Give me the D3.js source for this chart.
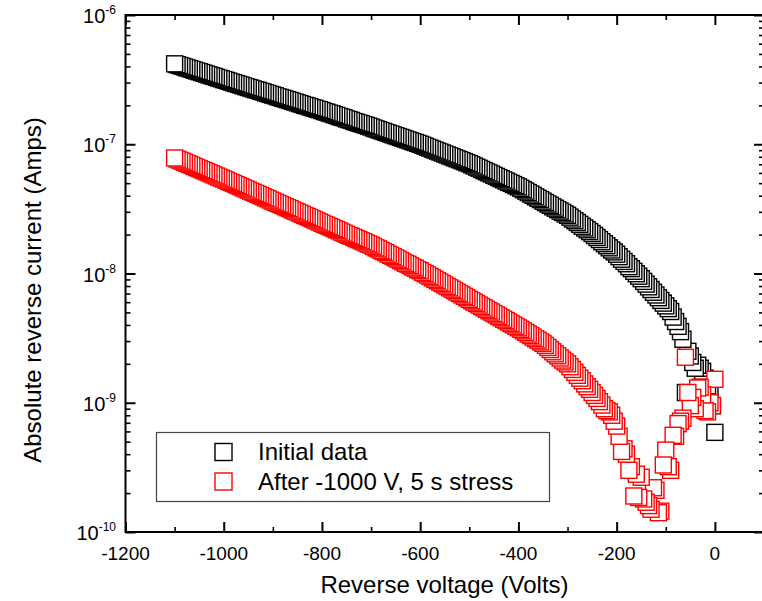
<!DOCTYPE html>
<html>
<head>
<meta charset="utf-8">
<script src="https://cdn.jsdelivr.net/npm/d3@7.9.0/dist/d3.min.js"></script>
<style>
  body { margin: 0; background: #fff; }
  svg { display: block; font-family: "Liberation Sans", Arial, sans-serif; }
</style>
</head>
<body>
<svg id="chart" width="762" height="601"></svg>
<script>
// reverse bias sweep, 5 V steps (Volts)
const voltage = [
  -1100, -1095, -1090, -1085, -1080, -1075, -1070, -1065, -1060, -1055, -1050, -1045, -1040, -1035, -1030, -1025, -1020, -1015, -1010, -1005,
  -1000, -995, -990, -985, -980, -975, -970, -965, -960, -955, -950, -945, -940, -935, -930, -925, -920, -915, -910, -905,
  -900, -895, -890, -885, -880, -875, -870, -865, -860, -855, -850, -845, -840, -835, -830, -825, -820, -815, -810, -805,
  -800, -795, -790, -785, -780, -775, -770, -765, -760, -755, -750, -745, -740, -735, -730, -725, -720, -715, -710, -705,
  -700, -695, -690, -685, -680, -675, -670, -665, -660, -655, -650, -645, -640, -635, -630, -625, -620, -615, -610, -605,
  -600, -595, -590, -585, -580, -575, -570, -565, -560, -555, -550, -545, -540, -535, -530, -525, -520, -515, -510, -505,
  -500, -495, -490, -485, -480, -475, -470, -465, -460, -455, -450, -445, -440, -435, -430, -425, -420, -415, -410, -405,
  -400, -395, -390, -385, -380, -375, -370, -365, -360, -355, -350, -345, -340, -335, -330, -325, -320, -315, -310, -305,
  -300, -295, -290, -285, -280, -275, -270, -265, -260, -255, -250, -245, -240, -235, -230, -225, -220, -215, -210, -205,
  -200, -195, -190, -185, -180, -175, -170, -165, -160, -155, -150, -145, -140, -135, -130, -125, -120, -115, -110, -105,
  -100, -95, -90, -85, -80, -75, -70, -65, -60, -55, -50, -45, -40, -35, -30, -25, -20, -15, -10, -5,
  0,
];

// absolute reverse current, nA (same order as voltage)
const initialCurrent = [
  419, 413, 407, 402, 396, 390, 385, 380, 374, 369, 364, 359, 354, 349, 344, 339, 335, 330, 325, 321,
  316, 312, 308, 303, 299, 295, 291, 287, 283, 279, 275, 272, 268, 264, 261, 257, 254, 250, 247, 243,
  240, 237, 233, 230, 227, 224, 221, 218, 215, 212, 209, 206, 203, 200, 198, 195, 192, 190, 187, 185,
  182, 179, 177, 174, 172, 169, 167, 164, 162, 160, 157, 155, 153, 150, 148, 146, 144, 142, 140, 138,
  136, 133.5, 131.5, 129.5, 127.5, 125.6, 123.7, 121.9, 120.0, 118.2, 116.4, 114.7, 113.0, 111.3, 109.6, 107.9, 106.3, 104.7, 103.1, 101.6,
  100, 98.3, 96.6, 94.9, 93.3, 91.7, 90.1, 88.6, 87.1, 85.6, 84.1, 82.7, 81.3, 79.9, 78.5, 77.2, 75.9, 74.6, 73.3, 72.0,
  70.8, 69.3, 67.9, 66.5, 65.2, 63.8, 62.5, 61.2, 60.0, 58.8, 57.5, 56.4, 55.2, 54.1, 53.0, 51.9, 50.8, 49.8, 48.8, 47.8,
  46.8, 45.6, 44.5, 43.4, 42.3, 41.2, 40.2, 39.2, 38.2, 37.3, 36.3, 35.4, 34.5, 33.7, 32.8, 32.0, 31.2, 30.4, 29.7, 28.9,
  28.2, 27.3, 26.4, 25.6, 24.8, 24.0, 23.2, 22.5, 21.8, 21.1, 20.4, 19.7, 19.0, 18.3, 17.6, 17.0, 16.4, 15.8, 15.2, 14.7,
  14.1, 13.5, 12.9, 12.4, 11.9, 11.3, 10.9, 10.4, 9.96, 9.53, 9.12, 8.69, 8.28, 7.89, 7.52, 7.16, 6.82, 6.50, 6.19, 5.90,
  5.62, 5.35, 5.08, 4.60, 4.25, 3.90, 3.55, 3.10, 1.20, 2.50, 2.30, 2.05, 1.85, 1.95, 1.85, 1.75, 1.55, 1.35, 1.15, 0.95,
  0.59,
];

const stressedCurrent = [
  78.3, 76.8, 75.4, 74.0, 72.6, 71.2, 69.9, 68.6, 67.3, 66.0, 64.8, 63.6, 62.4, 61.3, 60.1, 59.0, 57.9, 56.8, 55.7, 54.7,
  53.7, 52.7, 51.6, 50.6, 49.7, 48.7, 47.8, 46.9, 45.9, 45.1, 44.2, 43.3, 42.5, 41.7, 40.9, 40.1, 39.3, 38.5, 37.8, 37.0,
  36.3, 35.6, 34.9, 34.2, 33.6, 32.9, 32.3, 31.7, 31.0, 30.4, 29.9, 29.3, 28.7, 28.1, 27.6, 27.1, 26.5, 26.0, 25.5, 25.0,
  24.5, 24.0, 23.6, 23.1, 22.7, 22.2, 21.8, 21.4, 20.9, 20.5, 20.1, 19.7, 19.4, 19.0, 18.6, 18.3, 17.9, 17.6, 17.2, 16.9,
  16.6, 16.2, 15.8, 15.5, 15.1, 14.8, 14.5, 14.1, 13.8, 13.5, 13.2, 12.9, 12.6, 12.3, 12.0, 11.8, 11.5, 11.2, 11.0, 10.7,
  10.5, 10.2, 9.98, 9.73, 9.49, 9.25, 9.02, 8.79, 8.57, 8.36, 8.15, 7.95, 7.75, 7.56, 7.37, 7.18, 7.00, 6.83, 6.66, 6.49,
  6.31, 6.15, 6.00, 5.85, 5.70, 5.56, 5.42, 5.29, 5.15, 5.03, 4.90, 4.78, 4.66, 4.54, 4.43, 4.32, 4.21, 4.10, 4.00, 3.90,
  3.80, 3.70, 3.60, 3.50, 3.40, 3.31, 3.22, 3.13, 3.05, 2.96, 2.88, 2.78, 2.68, 2.58, 2.48, 2.39, 2.31, 2.22, 2.14, 2.07,
  2.00, 1.90, 1.81, 1.72, 1.63, 1.55, 1.48, 1.40, 1.33, 1.27, 1.20, 1.14, 1.08, 1.02, 0.96, 0.90, 0.87, 0.85, 0.80, 0.72,
  0.66, 0.55, 0.42, 0.44, 0.40, 0.30, 0.32, 0.19, 0.28, 0.185, 0.265, 0.18, 0.17, 0.16, 0.15, 0.22, 0.21, 0.141, 0.145, 0.33,
  0.43, 0.32, 0.30, 0.56, 0.55, 0.69, 0.72, 0.76, 2.25, 1.20, 0.95, 1.10, 0.90, 1.30, 1.32, 1.15, 0.87, 0.85, 1.00, 0.95,
  1.52,
];

const seriesNames = ['Initial data', 'After -1000 V, 5 s stress'];
const seriesColors = ['#000000', '#ff0000'];

const xMajorTicks = [-1200, -1000, -800, -600, -400, -200, 0, 100];
const xMinorTicks = [-1100, -900, -700, -500, -300, -100];
const yDecades = [-10, -9, -8, -7, -6];

const svg = d3.select('#chart');

const x = d3.scaleLinear().domain([-1200, 100]).range([125.5, 764]);
const y = d3.scaleLog().domain([1e-10, 1e-6]).range([532, 15]);

const yMajor = yDecades.map((e) => Math.pow(10, e));
const yMinor = [];
yDecades.slice(0, -1).forEach((e) => {
  for (let m = 2; m <= 9; m++) yMinor.push(m * Math.pow(10, e));
});

// data first, axes frame drawn over it
[initialCurrent, stressedCurrent].forEach((values, k) => {
  // the sweep ran 0 -> -1100 V, so the -1100 V square ends up on top
  const pts = voltage.map((v, i) => ({ v, a: values[i] * 1e-9 })).reverse();
  svg.append('g')
    .selectAll('rect')
    .data(pts)
    .join('rect')
    .attr('x', (d) => x(d.v) - 8)
    .attr('y', (d) => y(d.a) - 8)
    .attr('width', 16)
    .attr('height', 16)
    .attr('fill', '#fff')
    .attr('stroke', seriesColors[k])
    .attr('stroke-width', 1.4);
});

function ticks(axis, transform, values, size, width) {
  svg.append('g')
    .attr('transform', transform)
    .call(axis.tickValues(values).tickSize(size).tickFormat(''))
    .call((g) => g.select('.domain').remove())
    .call((g) => g.selectAll('line').attr('stroke', '#000').attr('stroke-width', width));
}

ticks(d3.axisBottom(x), 'translate(0,532)', xMajorTicks, -10, 2);
ticks(d3.axisBottom(x), 'translate(0,532)', xMinorTicks, -5, 1.6);
ticks(d3.axisTop(x), 'translate(0,15)', xMajorTicks, -10, 2);
ticks(d3.axisTop(x), 'translate(0,15)', xMinorTicks, -5, 1.6);
ticks(d3.axisLeft(y), 'translate(125.5,0)', yMajor, -10, 2);
ticks(d3.axisLeft(y), 'translate(125.5,0)', yMinor, -5, 1.6);
ticks(d3.axisRight(y), 'translate(764,0)', yMajor, -10, 2);
ticks(d3.axisRight(y), 'translate(764,0)', yMinor, -5, 1.6);

svg.append('rect')
  .attr('x', 125.5)
  .attr('y', 15)
  .attr('width', 764 - 125.5)
  .attr('height', 532 - 15)
  .attr('fill', 'none')
  .attr('stroke', '#000')
  .attr('stroke-width', 2);

// tick labels
svg.append('g')
  .selectAll('text')
  .data(xMajorTicks.filter((d) => d <= 0))
  .join('text')
  .attr('x', (d) => x(d))
  .attr('y', 560)
  .attr('text-anchor', 'middle')
  .attr('font-size', 19)
  .attr('fill', '#000')
  .text((d) => d);

const yLabels = svg.append('g')
  .selectAll('text')
  .data(yDecades)
  .join('text')
  .attr('x', 116)
  .attr('y', (d) => y(Math.pow(10, d)) + 8)
  .attr('text-anchor', 'end')
  .attr('font-size', 20)
  .attr('fill', '#000');
yLabels.append('tspan').text('10');
yLabels.append('tspan')
  .attr('dy', -9)
  .attr('font-size', 12)
  .text((d) => d);

// axis titles
svg.append('text')
  .attr('x', 444.5)
  .attr('y', 593)
  .attr('text-anchor', 'middle')
  .attr('font-size', 24)
  .attr('fill', '#000')
  .text('Reverse voltage (Volts)');

svg.append('text')
  .attr('transform', 'translate(41,290) rotate(-90)')
  .attr('text-anchor', 'middle')
  .attr('font-size', 24)
  .attr('fill', '#000')
  .text('Absolute reverse current (Amps)');

// legend
const legend = svg.append('g');
legend.append('rect')
  .attr('x', 156.5)
  .attr('y', 432.5)
  .attr('width', 393)
  .attr('height', 69)
  .attr('fill', '#fff')
  .attr('stroke', '#444')
  .attr('stroke-width', 1.2);

seriesNames.forEach((name, k) => {
  const cy = 452 + k * 29.5;
  legend.append('rect')
    .attr('x', 223.5 - 8.5)
    .attr('y', cy - 8.5)
    .attr('width', 17)
    .attr('height', 17)
    .attr('fill', '#fff')
    .attr('stroke', seriesColors[k])
    .attr('stroke-width', 1.4);
  legend.append('text')
    .attr('x', 258)
    .attr('y', cy + 8)
    .attr('font-size', 24)
    .attr('fill', '#000')
    .text(name);
});
</script>
</body>
</html>
